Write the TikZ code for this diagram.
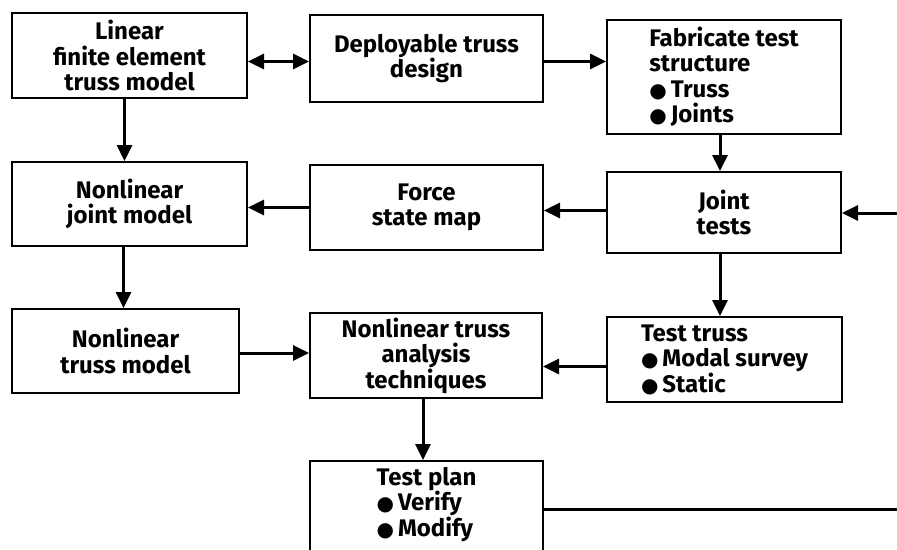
\documentclass[tikz,border=0pt]{standalone}
\usepackage{fontspec}
\setmainfont{Fira Sans}
\newfontfamily\symfont{DejaVu Sans}
\usetikzlibrary{arrows.meta}
\newcommand{\bul}{{\symfont\fontsize{20}{20}\selectfont ●}\,}
\begin{document}
\begin{tikzpicture}[x=1pt,y=-1pt,
  box/.style={draw, line width=2pt, inner sep=0pt,
    font=\fontsize{24}{25.5}\selectfont\bfseries, align=center},
  arr/.style={line width=3pt, -{Triangle[length=16pt,width=15pt]}},
  arr2/.style={line width=3pt, {Triangle[length=16pt,width=15pt]}-{Triangle[length=16pt,width=15pt]}},
  plain/.style={line width=3pt}]
\useasboundingbox (0,0) rectangle (897,549);
\clip (0,0) rectangle (897,549);
\node[box, minimum width=235pt, minimum height=85pt] (A) at (129.5,55.5) {Linear\\finite element\\truss model};
\node[box, minimum width=233pt, minimum height=87pt] (B) at (426.5,58.5) {Deployable truss\\design};
\node[box, minimum width=234pt, minimum height=114pt, align=left] (C) at (724,77) {Fabricate test\\structure\\\bul Truss\\\bul Joints};
\node[box, minimum width=235pt, minimum height=84pt] (D) at (129.5,204) {Nonlinear\\joint model};
\node[box, minimum width=233pt, minimum height=85pt] (E) at (426.5,207.5) {Force\\state map};
\node[box, minimum width=234pt, minimum height=81pt] (F) at (724,212.5) {Joint\\tests};
\node[box, minimum width=227pt, minimum height=84pt] (G) at (125.5,351) {Nonlinear\\truss model};
\node[box, minimum width=232pt, minimum height=85pt] (H) at (426,355.5) {Nonlinear truss\\analysis\\techniques};
\node[box, minimum width=235pt, minimum height=85pt, align=left] (I) at (724.5,359.5) {Test truss\\\bul Modal survey\\\bul Static};
\node[box, minimum width=233pt, anchor=north, inner ysep=6pt, text depth=60pt, align=left] (J) at (426.5,460) {Test plan\\\bul Verify\\\bul Modify};
\coordinate (ext1) at (897,213);
\coordinate (ext2) at (897,509);
\draw[arr2] ([yshift=-3pt]A.east |- B.west) -- ([yshift=-3pt]B.west);
\draw[arr] ([yshift=-3pt]B.east) -- ([yshift=-3pt]B.east -| C.west);
\draw[arr] ([xshift=-5pt]A.south) -- ([xshift=-5pt]A.south |- D.north);
\draw[arr] ([xshift=-4pt]C.south) -- ([xshift=-4pt]C.south |- F.north);
\draw[arr] ([yshift=2pt]F.west) -- ([yshift=2pt]F.west -| E.east);
\draw[arr] (E.west) -- (E.west -| D.east);
\draw[arr] (ext1) -- (ext1 -| F.east);
\draw[arr] ([xshift=-6pt]D.south) -- ([xshift=-6pt]D.south |- G.north);
\draw[arr] ([xshift=-4pt]F.south) -- ([xshift=-4pt]F.south |- I.north);
\draw[arr] ([yshift=-2pt]G.east) -- ([yshift=-2pt]G.east -| H.west);
\draw[arr] ([yshift=-7pt]I.west) -- ([yshift=-7pt]I.west -| H.east);
\draw[arr] ([xshift=-3pt]H.south) -- ([xshift=-3pt]H.south |- J.north);
\draw[plain] (J.east |- ext2) -- (ext2);
\end{tikzpicture}
\end{document}
